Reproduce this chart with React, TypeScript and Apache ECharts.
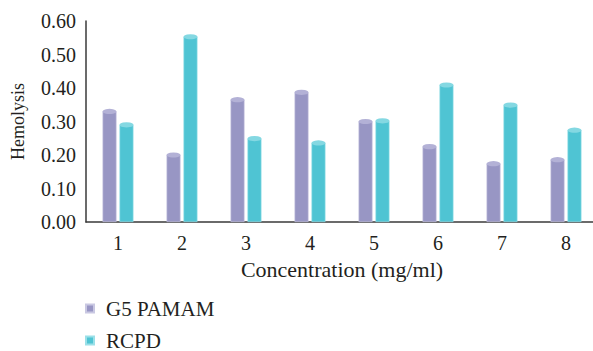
import React, { useEffect, useRef } from "react";
import * as echarts from "echarts";

const categories = ["1", "2", "3", "4", "5", "6", "7", "8"];
const g5Pamam = [0.33, 0.2, 0.365, 0.387, 0.3, 0.225, 0.174, 0.186];
const rcpd = [0.29, 0.553, 0.249, 0.236, 0.302, 0.409, 0.349, 0.274];
const yTicks = [0, 0.1, 0.2, 0.3, 0.4, 0.5, 0.6];
const seriesNames = ["G5 PAMAM", "RCPD"];

const FONT = "Liberation Serif";
const TXT = "#231f20";
const PURPLE = "#9896c4";
const PURPLE_TOP = "#b3b1d6";
const CYAN = "#4fc4d3";
const CYAN_TOP = "#84d8e2";

export default function App() {
  const ref = useRef<HTMLDivElement>(null);
  useEffect(() => {
    if (!ref.current) return;
    const chart = echarts.init(ref.current, null, { renderer: "svg" });
    const barW = 14;
    const half = 8.5;
    const legendItem = (name: string, top: number) => ({
      show: true,
      orient: "vertical",
      left: 85,
      top,
      padding: 0,
      itemWidth: 8,
      itemHeight: 8,
      icon: "rect",
      data: [name],
      selectedMode: false,
      textStyle: { fontFamily: FONT, fontSize: 21, color: TXT, padding: [0, 0, 0, 7] },
    });
    chart.setOption({
      animation: false,
      textStyle: { fontFamily: FONT },
      legend: [legendItem(seriesNames[0], 298), legendItem(seriesNames[1], 330)],
      grid: { left: 86, top: 21, width: 512, height: 201, outerBoundsMode: "none", containLabel: false },
      xAxis: {
        type: "category",
        data: categories,
        name: "Concentration (mg/ml)",
        nameLocation: "middle",
        nameGap: 36,
        nameTextStyle: { fontFamily: FONT, fontSize: 22, color: TXT },
        axisLine: { lineStyle: { color: "#3a3a3a", width: 1.5 } },
        axisTick: { show: false },
        axisLabel: { fontFamily: FONT, fontSize: 20, color: TXT, margin: 11 },
      },
      yAxis: {
        type: "value",
        min: 0,
        max: 0.6,
        interval: 0.1,
        name: "Hemolysis",
        nameLocation: "middle",
        nameGap: 59,
        nameTextStyle: { fontFamily: FONT, fontSize: 18, color: TXT },
        axisLine: { show: true, lineStyle: { color: "#3a3a3a", width: 1.5 } },
        axisTick: { show: false },
        splitLine: { show: false },
        axisLabel: {
          fontFamily: FONT,
          fontSize: 20,
          color: TXT,
          margin: 10,
          formatter: (v: number) => (yTicks.some((t) => Math.abs(t - v) < 1e-9) ? v.toFixed(2) : ""),
        },
      },
      series: [
        {
          name: seriesNames[0],
          type: "bar",
          data: g5Pamam,
          barWidth: barW,
          barGap: "21%",
          itemStyle: { color: PURPLE, borderColor: "#c9c8e2", borderWidth: 0.6 },
        },
        {
          name: seriesNames[1],
          type: "bar",
          data: rcpd,
          barWidth: barW,
          barGap: "21%",
          itemStyle: { color: CYAN, borderColor: "#9be0e8", borderWidth: 0.6 },
        },
        {
          name: "capA",
          type: "pictorialBar",
          data: g5Pamam,
          symbol: "circle",
          symbolSize: [barW, 5],
          symbolPosition: "end",
          symbolOffset: [-half, "-50%"],
          itemStyle: { color: PURPLE_TOP },
          z: 5,
        },
        {
          name: "capB",
          type: "pictorialBar",
          data: rcpd,
          symbol: "circle",
          symbolSize: [barW, 5],
          symbolPosition: "end",
          symbolOffset: [half, "-50%"],
          itemStyle: { color: CYAN_TOP },
          z: 5,
        },
      ],
    });
    return () => chart.dispose();
  }, []);
  return (
    <div
      ref={ref}
      style={{ position: "fixed", left: 0, top: 0, width: 593, height: 351, background: "#fff" }}
    />
  );
}
